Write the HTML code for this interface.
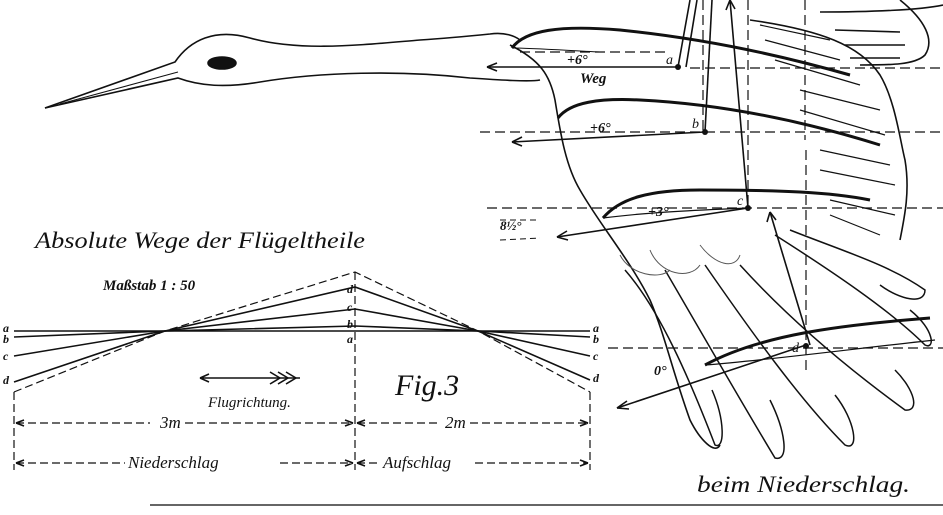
<!DOCTYPE html>
<html><head><meta charset="utf-8"><style>
html,body{margin:0;padding:0;background:#fff;}
svg{display:block}
text{font-family:"Liberation Serif",serif;font-style:italic;fill:#111}
</style></head><body>
<svg width="943" height="515" viewBox="0 0 943 515" xmlns="http://www.w3.org/2000/svg">
<g fill="none" stroke="#111" stroke-width="1.6">
<path d="M45,108 L175,62 C190,40 215,28 250,38 C300,52 360,45 420,40 C450,38 470,36 490,34 C505,32 515,36 520,40"/>
<path d="M45,108 L178,78 C200,86 225,88 260,82 C320,72 400,70 470,78 C500,80 530,82 540,80"/>
<path d="M60,104 L178,72" stroke-width="1"/>
<ellipse cx="222" cy="63" rx="14" ry="6" fill="#111"/>
<path d="M510,45 C540,60 550,75 555,100 C560,130 565,165 580,190 C600,225 630,260 650,300 C665,335 672,370 690,420 C700,440 715,455 720,445"/>
<path d="M512,48 C525,30 560,25 620,30 C700,38 780,55 850,75" stroke-width="3"/>
<path d="M512,48 C530,48 560,50 600,52" stroke-width="1"/>
<path d="M558,118 C570,102 600,98 640,100 C720,104 800,120 880,145" stroke-width="3"/>
<path d="M603,218 C620,198 650,190 700,190 C780,190 830,192 870,200" stroke-width="3"/>
<path d="M603,218 C650,212 700,210 748,208" stroke-width="1.2"/>
<path d="M705,365 C760,335 840,325 930,318" stroke-width="3"/>
<path d="M705,365 C770,360 860,348 935,340" stroke-width="1.2"/>
<path d="M750,20 C820,30 860,45 880,75 C895,100 900,140 905,160 C910,190 905,215 900,240"/>
<path d="M760,25 L830,40 M765,40 L840,60 M775,60 L860,85 M800,90 L880,110 M800,110 L885,135 M820,150 L890,165 M820,170 L895,185 M830,200 L895,215 M830,215 L880,235" stroke-width="1.2"/>
<path d="M820,12 C870,12 920,10 943,5 M835,30 L900,32 M845,45 L905,45 M850,58 L900,58"/>
<path d="M900,0 C925,20 935,40 925,55 C915,65 890,65 860,65"/>
<g stroke-width="1.5">
<path d="M625,270 C660,310 690,380 715,445 C725,450 725,420 712,390"/>
<path d="M665,270 C700,330 740,400 775,458 C790,462 785,430 770,400"/>
<path d="M705,265 C750,330 800,400 845,445 C860,452 855,420 835,395"/>
<path d="M740,265 C790,320 850,370 905,410 C920,412 915,390 895,370"/>
<path d="M775,235 C830,270 890,310 925,345 C935,350 935,330 910,310"/>
<path d="M790,230 C840,250 890,265 925,290 C925,305 900,300 880,285"/>
</g>
<path d="M620,255 C630,275 660,280 670,270 M650,250 C660,275 690,280 700,265 M700,245 C715,265 735,270 740,255" stroke-width="1" stroke="#555"/>
<g stroke-width="1.2" stroke-dasharray="10,5">
<path d="M520,52 L665,52"/><path d="M690,68 L943,68"/><path d="M480,132 L943,132"/><path d="M487,208 L943,208"/><path d="M608,348 L943,348"/>
<path d="M703,0 L703,135"/><path d="M748,0 L748,205"/><path d="M805,0 L805,140"/><path d="M806,150 L806,370"/>
</g>
<path d="M678,67 L487,67"/><path d="M487,67 l10,-4 M487,67 l10,4"/>
<path d="M705,132 L512,142"/><path d="M512,142 l10,-5 M512,142 l10,4"/>
<path d="M748,208 L557,237"/><path d="M557,237 l10,-6 M557,237 l11,3"/>
<path d="M806,345 L617,408"/><path d="M617,408 l10,-7 M617,408 l12,1"/>
<path d="M678,67 L690,0 M697,0 L686,67"/><path d="M705,132 L712,0"/>
<path d="M748,208 L730,0"/><path d="M730,0 l-4,10 M730,0 l5,9"/>
<path d="M810,345 L770,212"/><path d="M770,212 l-3,10 M770,212 l6,8"/>
<path d="M500,220 L540,220 M500,240 L540,238" stroke-width="1" stroke-dasharray="6,4"/>
</g>
<g fill="#111"><circle cx="678" cy="67" r="3"/><circle cx="705" cy="132" r="3"/><circle cx="748" cy="208" r="3"/><circle cx="806" cy="346" r="3"/></g>
<g fill="none" stroke="#111" stroke-width="1.6">
<path d="M14,331 L590,331"/><path d="M14,337 L165,331 L355,326 L478,331 L590,337"/>
<path d="M14,356 L165,331 L355,309 L478,331 L590,356"/>
<path d="M14,382 L165,331 L355,287 L478,331 L590,380"/>
<path d="M14,392 L165,331 L355,272 L478,331 L590,392" stroke-dasharray="8,4" stroke-width="1.2"/>
<g stroke-dasharray="8,4" stroke-width="1.2">
<path d="M14,392 L14,470"/><path d="M355,272 L355,470"/><path d="M590,392 L590,470"/>
<path d="M16,423 L150,423"/><path d="M185,423 L353,423"/><path d="M357,423 L440,423"/><path d="M470,423 L588,423"/>
<path d="M16,463 L125,463"/><path d="M280,463 L353,463"/><path d="M357,463 L380,463"/><path d="M475,463 L588,463"/>
</g>
<path d="M16,423 l8,-3 M16,423 l8,3 M353,423 l-8,-3 M353,423 l-8,3 M357,423 l8,-3 M357,423 l8,3 M588,423 l-8,-3 M588,423 l-8,3"/>
<path d="M16,463 l8,-3 M16,463 l8,3 M353,463 l-8,-3 M353,463 l-8,3 M357,463 l8,-3 M357,463 l8,3 M588,463 l-8,-3 M588,463 l-8,3"/>
<path d="M200,378 L300,378 M200,378 l9,-4 M200,378 l9,4"/>
<path d="M270,372 l10,6 M278,372 l10,6 M286,372 l10,6 M270,384 l10,-6 M278,384 l10,-6 M286,384 l10,-6"/>
</g>
<g font-size="12" font-weight="bold">
<text x="3" y="332">a</text><text x="3" y="343">b</text><text x="3" y="360">c</text><text x="3" y="384">d</text>
<text x="593" y="332">a</text><text x="593" y="343">b</text><text x="593" y="360">c</text><text x="593" y="382">d</text>
<text x="347" y="293">d</text><text x="347" y="311">c</text><text x="347" y="328">b</text><text x="347" y="343">a</text>
</g>
<text x="35" y="248" font-size="23" textLength="330" lengthAdjust="spacingAndGlyphs">Absolute Wege der Flügeltheile</text>
<text x="103" y="290" font-size="15" font-weight="bold">Maßstab 1 : 50</text>
<text x="208" y="407" font-size="15">Flugrichtung.</text>
<text x="395" y="395" font-size="30">Fig.3</text>
<text x="160" y="428" font-size="17">3m</text><text x="445" y="428" font-size="17">2m</text>
<text x="128" y="468" font-size="17">Niederschlag</text><text x="383" y="468" font-size="17">Aufschlag</text>
<text x="697" y="492" font-size="23" textLength="213" lengthAdjust="spacingAndGlyphs">beim Niederschlag.</text>
<text x="580" y="83" font-size="15" font-weight="bold">Weg</text>
<text x="567" y="64" font-size="14" font-weight="bold">+6°</text><text x="590" y="132" font-size="14" font-weight="bold">+6°</text>
<text x="648" y="216" font-size="14" font-weight="bold">+3°</text><text x="500" y="230" font-size="13" font-weight="bold">8½°</text>
<text x="654" y="375" font-size="14" font-weight="bold">0°</text>
<text x="666" y="64" font-size="14">a</text><text x="692" y="128" font-size="14">b</text><text x="737" y="205" font-size="14">c</text><text x="792" y="352" font-size="14">d</text>
<path d="M150,505 L943,505" stroke="#333" stroke-width="1.5"/>
</svg>
</body></html>
